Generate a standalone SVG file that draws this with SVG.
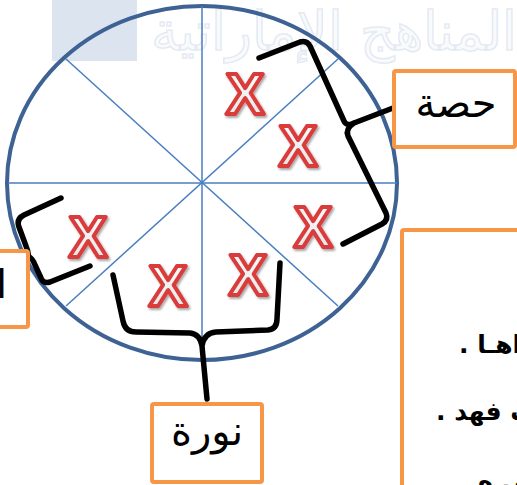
<svg xmlns="http://www.w3.org/2000/svg" width="517" height="485" viewBox="0 0 517 485">
<defs>
<style>
.box{fill:#fff;stroke:#F79646;stroke-width:4}
.lbl{font-family:"DejaVu Sans",sans-serif;font-size:40px;fill:#000}
.body{font-family:"DejaVu Sans",sans-serif;font-size:25px;font-weight:bold;fill:#000}
.sp{stroke:#4A7EC1;stroke-width:1.5;fill:none}
.brace{fill:none;stroke:#000;stroke-width:5.5;stroke-linecap:round;stroke-linejoin:round}
.x{font-family:"Liberation Sans",Arial,sans-serif;font-weight:bold;font-size:58px;fill:url(#xg);stroke:#DA3A3A;stroke-width:4;stroke-linejoin:round;text-anchor:middle;filter:url(#sh)}
</style>
<linearGradient id="xg" x1="0" y1="0" x2="0" y2="1">
<stop offset="0" stop-color="#ffffff"/>
<stop offset="1" stop-color="#e2e2e2"/>
</linearGradient>
<filter id="sh" x="-30%" y="-30%" width="160%" height="160%">
<feDropShadow dx="1.5" dy="2" stdDeviation="1.2" flood-color="#000" flood-opacity="0.35"/>
</filter>
</defs>
<rect width="517" height="485" fill="#fff"/>
<g id="watermark">
<rect x="52" y="0" width="85" height="61" fill="#DCE4EF"/>
<text x="517" y="50" text-anchor="end" font-family="DejaVu Serif,serif" font-size="54" fill="#F8FAFC" stroke="#E4EAF3" stroke-width="1.5">المناهج الإماراتية</text>
</g>
<g id="circle">
<ellipse cx="202" cy="183" rx="195" ry="177" fill="none" stroke="#3D6293" stroke-width="4"/>
<line class="sp" x1="202" y1="6" x2="202" y2="360"/>
<line class="sp" x1="8" y1="183" x2="397" y2="183"/>
<line class="sp" x1="66" y1="59" x2="338" y2="306"/>
<line class="sp" x1="338" y1="59" x2="66" y2="306"/>
</g>
<g id="marks">
<text class="x" x="245" y="114">X</text>
<text class="x" x="298" y="166">X</text>
<text class="x" x="313" y="247">X</text>
<text class="x" x="248" y="295">X</text>
<text class="x" x="168" y="306">X</text>
<text class="x" x="88" y="257">X</text>
</g>
<g id="connectors">
<path class="brace" d="M259,58 L300,42 Q307,40 310,46 L344,121 Q347,127 354,123 L393,108 M354,123 Q345,129 348,136 L386,213 Q389,220 382,224 L343,244"/>
<path class="brace" d="M113,275 L123,321 Q125,332 136,332 L190,333 Q200,334 202,346 L207,399 M202,346 Q204,333 216,332 L268,330 Q277,329 277,319 L280,263"/>
<path class="brace" d="M61,198 L24,215 Q16,219 19,227 L26,246 Q29,253 28,256 M28,256 Q33,259 35,265 L41,278 Q43,284 50,282 L90,266"/>
</g>
<g id="node-hessa">
<rect class="box" x="394" y="71" width="121" height="76" rx="2"/>
<text class="lbl" x="456" y="117" text-anchor="middle">حصة</text>
</g>
<g id="node-noura">
<rect class="box" x="152" y="404" width="110" height="78" rx="2"/>
<text class="lbl" x="207" y="445" text-anchor="middle">نورة</text>
</g>
<g id="node-left">
<rect class="box" x="-10" y="251" width="38" height="76" rx="2"/>
<text class="lbl" x="7" y="298" text-anchor="end">ا</text>
</g>
<g id="node-text">
<rect class="box" x="402" y="230" width="130" height="270" rx="2"/>
<text class="body" x="459" y="353" direction="rtl" text-anchor="end">اهـا .</text>
<text class="body" x="436" y="420" direction="rtl" text-anchor="end">ف فهد .</text>
<text class="body" x="478" y="489" direction="rtl" text-anchor="end">شي ه</text>
</g>
</svg>
